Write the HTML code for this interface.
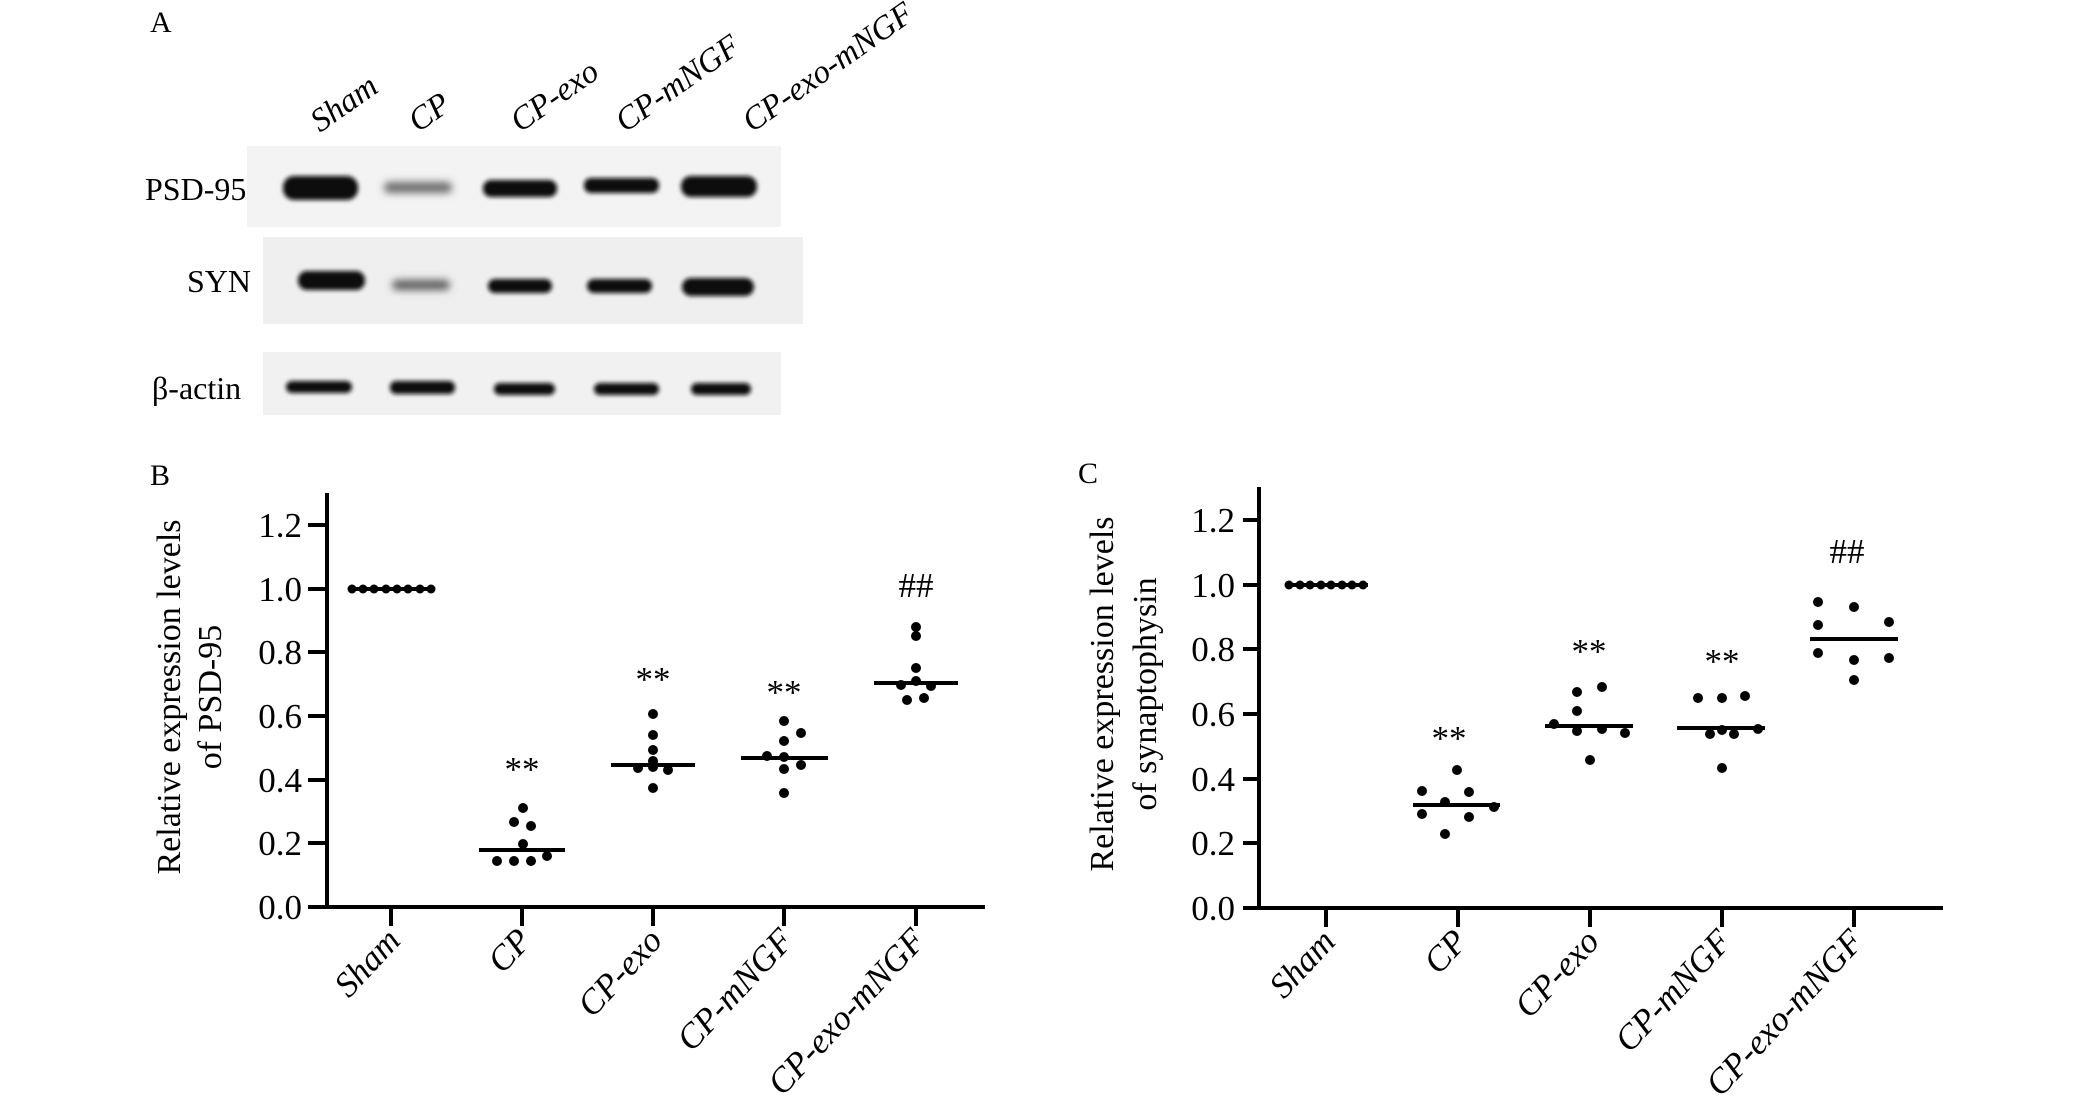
<!DOCTYPE html>
<html><head><meta charset="utf-8"><style>
html,body{margin:0;padding:0;background:#fff;}
svg{display:block;}
text{font-family:"Liberation Serif",serif;fill:#000;}
</style></head><body>
<svg width="2079" height="1108" viewBox="0 0 2079 1108" xmlns="http://www.w3.org/2000/svg">
<defs>
<filter id="bl" x="-20%" y="-60%" width="140%" height="220%"><feGaussianBlur stdDeviation="2.2"/></filter>
<filter id="bl2" x="-20%" y="-60%" width="140%" height="220%"><feGaussianBlur stdDeviation="3.5"/></filter>
</defs>
<!-- Panel A -->
<text x="150" y="32" font-size="30">A</text>
<g font-size="33" font-style="italic">
<text transform="translate(320,133) rotate(-35)">Sham</text>
<text transform="translate(418,133) rotate(-35)">CP</text>
<text transform="translate(520,133) rotate(-35)">CP-exo</text>
<text transform="translate(625,133) rotate(-35)">CP-mNGF</text>
<text transform="translate(752,133) rotate(-35)">CP-exo-mNGF</text>
</g>
<g font-size="32">
<text x="145" y="200">PSD-95</text>
<text x="187" y="292">SYN</text>
<text x="152" y="399">β-actin</text>
</g>
<rect x="247" y="146" width="534" height="81" fill="#f3f3f3"/>
<rect x="263" y="237" width="540" height="87" fill="#efefef"/>
<rect x="263" y="352" width="518" height="63" fill="#f1f1f1"/>
<g filter="url(#bl)" fill="#0a0a0a">
<rect x="283" y="176" width="75" height="24" rx="11"/>
<rect x="384" y="182" width="68" height="11" rx="5" fill="#6a6a6a" filter="url(#bl2)"/>
<rect x="483" y="180" width="74" height="17" rx="8"/>
<rect x="584" y="178" width="75" height="15" rx="7"/>
<rect x="681" y="176" width="76" height="21" rx="10"/>
<rect x="298" y="271" width="67" height="19" rx="9"/>
<rect x="392" y="280" width="58" height="10" rx="5" fill="#5a5a5a" filter="url(#bl2)"/>
<rect x="488" y="279" width="64" height="14" rx="7"/>
<rect x="587" y="279" width="65" height="14" rx="7"/>
<rect x="682" y="278" width="72" height="18" rx="9"/>
<rect x="286" y="381" width="66" height="12" rx="6"/>
<rect x="390" y="381" width="65" height="13" rx="6"/>
<rect x="494" y="383" width="61" height="12" rx="6"/>
<rect x="594" y="383" width="65" height="12" rx="6"/>
<rect x="691" y="383" width="60" height="12" rx="6"/>
</g>

<!-- Panel B -->
<text x="150" y="485" font-size="30">B</text>
<g font-size="34" text-anchor="middle">
<text transform="translate(180,697) rotate(-90)">Relative expression levels</text>
<text transform="translate(221,697) rotate(-90)">of PSD-95</text>
</g>
<g stroke="#000" stroke-width="4" fill="none">
<line x1="327" y1="493" x2="327" y2="909"/>
<line x1="308" y1="907" x2="985" y2="907"/>
<line x1="308" y1="525" x2="327" y2="525"/><line x1="308" y1="589" x2="327" y2="589"/>
<line x1="308" y1="652" x2="327" y2="652"/><line x1="308" y1="716" x2="327" y2="716"/>
<line x1="308" y1="780" x2="327" y2="780"/><line x1="308" y1="843" x2="327" y2="843"/>
<line x1="391" y1="907" x2="391" y2="926"/><line x1="522" y1="907" x2="522" y2="926"/>
<line x1="653" y1="907" x2="653" y2="926"/><line x1="784" y1="907" x2="784" y2="926"/>
<line x1="916" y1="907" x2="916" y2="926"/>
</g>
<g font-size="35" text-anchor="end">
<text x="302" y="537">1.2</text><text x="302" y="601">1.0</text>
<text x="302" y="664">0.8</text><text x="302" y="728">0.6</text>
<text x="302" y="792">0.4</text><text x="302" y="855">0.2</text>
<text x="302" y="919">0.0</text>
</g>
<g font-size="35" text-anchor="end" font-style="italic">
<text transform="translate(402,942) rotate(-47)">Sham</text>
<text transform="translate(533,942) rotate(-47)">CP</text>
<text transform="translate(664,942) rotate(-47)">CP-exo</text>
<text transform="translate(795,942) rotate(-47)">CP-mNGF</text>
<text transform="translate(927,942) rotate(-47)">CP-exo-mNGF</text>
</g>
<g stroke="#000" stroke-width="4">
<line x1="350" y1="589" x2="433" y2="589"/>
<line x1="479" y1="850" x2="565" y2="850"/>
<line x1="611" y1="765" x2="695" y2="765"/>
<line x1="741" y1="758" x2="828" y2="758"/>
<line x1="874" y1="683" x2="958" y2="683"/>
</g>
<g fill="#000">
<circle cx="352" cy="589" r="4.5"/><circle cx="363" cy="589" r="4.5"/><circle cx="374" cy="589" r="4.5"/><circle cx="386" cy="589" r="4.5"/>
<circle cx="397" cy="589" r="4.5"/><circle cx="408" cy="589" r="4.5"/><circle cx="420" cy="589" r="4.5"/><circle cx="431" cy="589" r="4.5"/>
<circle cx="523" cy="808" r="5"/><circle cx="514" cy="822" r="5"/><circle cx="531" cy="826" r="5"/><circle cx="523" cy="844" r="5"/>
<circle cx="497" cy="861" r="5"/><circle cx="514" cy="861" r="5"/><circle cx="531" cy="861" r="5"/><circle cx="547" cy="856" r="5"/>
<circle cx="653" cy="714" r="5"/><circle cx="653" cy="735" r="5"/><circle cx="653" cy="750" r="5"/><circle cx="638" cy="768" r="5"/>
<circle cx="653" cy="761" r="5"/><circle cx="668" cy="770" r="5"/><circle cx="653" cy="788" r="5"/><circle cx="653" cy="767" r="5"/>
<circle cx="784" cy="721" r="5"/><circle cx="784" cy="741" r="5"/><circle cx="801" cy="733" r="5"/><circle cx="767" cy="756" r="5"/>
<circle cx="784" cy="769" r="5"/><circle cx="801" cy="765" r="5"/><circle cx="784" cy="793" r="5"/><circle cx="784" cy="757" r="5"/>
<circle cx="916" cy="627" r="5"/><circle cx="916" cy="636" r="5"/><circle cx="916" cy="668" r="5"/><circle cx="901" cy="685" r="5"/>
<circle cx="916" cy="681" r="5"/><circle cx="931" cy="686" r="5"/><circle cx="907" cy="700" r="5"/><circle cx="924" cy="698" r="5"/>
</g>
<g font-size="35" text-anchor="middle">
<text x="522" y="781">**</text><text x="653" y="691">**</text><text x="784" y="704">**</text>
<text x="916" y="597">##</text>
</g>

<!-- Panel C -->
<text x="1078" y="483" font-size="30">C</text>
<g font-size="34" text-anchor="middle">
<text transform="translate(1113,694) rotate(-90)">Relative expression levels</text>
<text transform="translate(1156,694) rotate(-90)">of synaptophysin</text>
</g>
<g stroke="#000" stroke-width="4" fill="none">
<line x1="1259" y1="487" x2="1259" y2="910"/>
<line x1="1243" y1="908" x2="1943" y2="908"/>
<line x1="1243" y1="520" x2="1259" y2="520"/><line x1="1243" y1="585" x2="1259" y2="585"/>
<line x1="1243" y1="649" x2="1259" y2="649"/><line x1="1243" y1="714" x2="1259" y2="714"/>
<line x1="1243" y1="779" x2="1259" y2="779"/><line x1="1243" y1="843" x2="1259" y2="843"/>
<line x1="1326" y1="908" x2="1326" y2="927"/><line x1="1458" y1="908" x2="1458" y2="927"/>
<line x1="1590" y1="908" x2="1590" y2="927"/><line x1="1722" y1="908" x2="1722" y2="927"/>
<line x1="1854" y1="908" x2="1854" y2="927"/>
</g>
<g font-size="35" text-anchor="end">
<text x="1235" y="532">1.2</text><text x="1235" y="597">1.0</text>
<text x="1235" y="661">0.8</text><text x="1235" y="726">0.6</text>
<text x="1235" y="791">0.4</text><text x="1235" y="855">0.2</text>
<text x="1235" y="920">0.0</text>
</g>
<g font-size="35" text-anchor="end" font-style="italic">
<text transform="translate(1337,943) rotate(-47)">Sham</text>
<text transform="translate(1469,943) rotate(-47)">CP</text>
<text transform="translate(1601,943) rotate(-47)">CP-exo</text>
<text transform="translate(1733,943) rotate(-47)">CP-mNGF</text>
<text transform="translate(1865,943) rotate(-47)">CP-exo-mNGF</text>
</g>
<g stroke="#000" stroke-width="4">
<line x1="1287" y1="585" x2="1368" y2="585"/>
<line x1="1413" y1="805" x2="1500" y2="805"/>
<line x1="1545" y1="726" x2="1633" y2="726"/>
<line x1="1677" y1="728" x2="1765" y2="728"/>
<line x1="1810" y1="639" x2="1898" y2="639"/>
</g>
<g fill="#000">
<circle cx="1289" cy="585" r="4.5"/><circle cx="1300" cy="585" r="4.5"/><circle cx="1310" cy="585" r="4.5"/><circle cx="1321" cy="585" r="4.5"/>
<circle cx="1331" cy="585" r="4.5"/><circle cx="1342" cy="585" r="4.5"/><circle cx="1352" cy="585" r="4.5"/><circle cx="1363" cy="585" r="4.5"/>
<circle cx="1457" cy="770" r="5"/><circle cx="1422" cy="791" r="5"/><circle cx="1469" cy="792" r="5"/><circle cx="1445" cy="802" r="5"/>
<circle cx="1422" cy="814" r="5"/><circle cx="1469" cy="817" r="5"/><circle cx="1494" cy="807" r="5"/><circle cx="1445" cy="834" r="5"/>
<circle cx="1602" cy="687" r="5"/><circle cx="1577" cy="692" r="5"/><circle cx="1577" cy="711" r="5"/><circle cx="1554" cy="724" r="5"/>
<circle cx="1577" cy="731" r="5"/><circle cx="1602" cy="729" r="5"/><circle cx="1625" cy="733" r="5"/><circle cx="1590" cy="760" r="5"/>
<circle cx="1698" cy="698" r="5"/><circle cx="1722" cy="698" r="5"/><circle cx="1745" cy="696" r="5"/><circle cx="1710" cy="734" r="5"/>
<circle cx="1734" cy="734" r="5"/><circle cx="1758" cy="729" r="5"/><circle cx="1722" cy="768" r="5"/><circle cx="1722" cy="730" r="5"/>
<circle cx="1818" cy="602" r="5"/><circle cx="1854" cy="607" r="5"/><circle cx="1818" cy="625" r="5"/><circle cx="1889" cy="622" r="5"/>
<circle cx="1818" cy="653" r="5"/><circle cx="1854" cy="660" r="5"/><circle cx="1889" cy="658" r="5"/><circle cx="1854" cy="680" r="5"/>
</g>
<g font-size="35" text-anchor="middle">
<text x="1449" y="750">**</text><text x="1589" y="663">**</text><text x="1722" y="673">**</text>
<text x="1847" y="563">##</text>
</g>
</svg>
</body></html>
